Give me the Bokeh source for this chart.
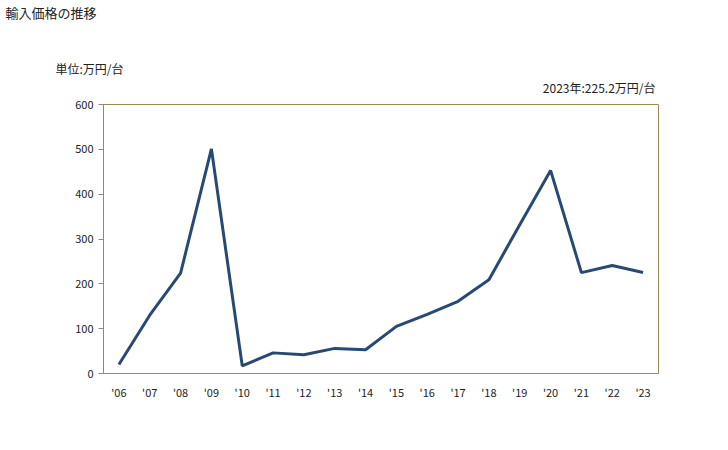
from bokeh.plotting import figure
from bokeh.models import Title, FixedTicker, Range1d
from bokeh.embed import file_html
from bokeh.resources import INLINE

years = [2006, 2007, 2008, 2009, 2010, 2011, 2012, 2013, 2014, 2015,
         2016, 2017, 2018, 2019, 2020, 2021, 2022, 2023]
prices = [20, 130, 224, 501, 17, 46, 42, 56, 53, 105,
          132, 161, 209, 332, 453, 225, 241, 225.2]
year_labels = ["'06", "'07", "'08", "'09", "'10", "'11", "'12", "'13", "'14",
               "'15", "'16", "'17", "'18", "'19", "'20", "'21", "'22", "'23"]
y_ticks = [0, 100, 200, 300, 400, 500, 600]

title_text = "輸入価格の推移"
unit_text = "単位:万円/台"
latest_text = "2023年:225.2万円/台"

FONT = "Noto Sans CJK JP"

p = figure(width=728, height=450, output_backend="svg", toolbar_location=None,
           x_range=Range1d(2005.5, 2023.5), y_range=Range1d(0, 600),
           min_border_left=103, min_border_right=70, min_border_top=104,
           min_border_bottom=77, title=None)

p.line(years, prices, line_color="#274a74", line_width=3)

p.xgrid.visible = False
p.ygrid.visible = False
p.outline_line_color = "#9a8c4e"
p.outline_line_width = 1
p.background_fill_color = "white"
p.border_fill_color = "white"

xa = p.xaxis[0]
xa.ticker = FixedTicker(ticks=years)
xa.major_label_overrides = {y: l for y, l in zip(years, year_labels)}
xa.major_tick_line_color = None
xa.minor_tick_line_color = None
xa.axis_line_color = "#888888"
xa.major_label_text_font = FONT
xa.major_label_text_font_size = "11px"
xa.major_label_text_color = "#222222"
xa.major_label_standoff = 4

ya = p.yaxis[0]
ya.ticker = FixedTicker(ticks=y_ticks)
ya.major_tick_in = 0
ya.major_tick_out = 5
ya.minor_tick_line_color = None
ya.major_tick_line_color = "#888888"
ya.axis_line_color = "#888888"
ya.major_label_text_font = FONT
ya.major_label_text_font_size = "11px"
ya.major_label_text_color = "#222222"
ya.major_label_standoff = 5

# Titles stacked above the frame (first added sits closest to the frame).
# A trailing empty line with a chosen line height adds space below a text.
p.add_layout(Title(text=latest_text + "\n", align="right", offset=3, standoff=0,
                   text_font=FONT, text_font_size="12px", text_line_height=0.52,
                   text_font_style="normal", text_color="#222222"), "above")
p.add_layout(Title(text=unit_text, align="left", offset=-48, standoff=0,
                   text_font=FONT, text_font_size="12px",
                   text_font_style="normal", text_color="#222222"), "above")
p.add_layout(Title(text=title_text + "\n", align="left", offset=-98, standoff=0,
                   text_font=FONT, text_font_size="13px", text_line_height=1.85,
                   text_font_style="normal", text_color="#222222"), "above")

open("out.html", "w").write(file_html(p, INLINE))
